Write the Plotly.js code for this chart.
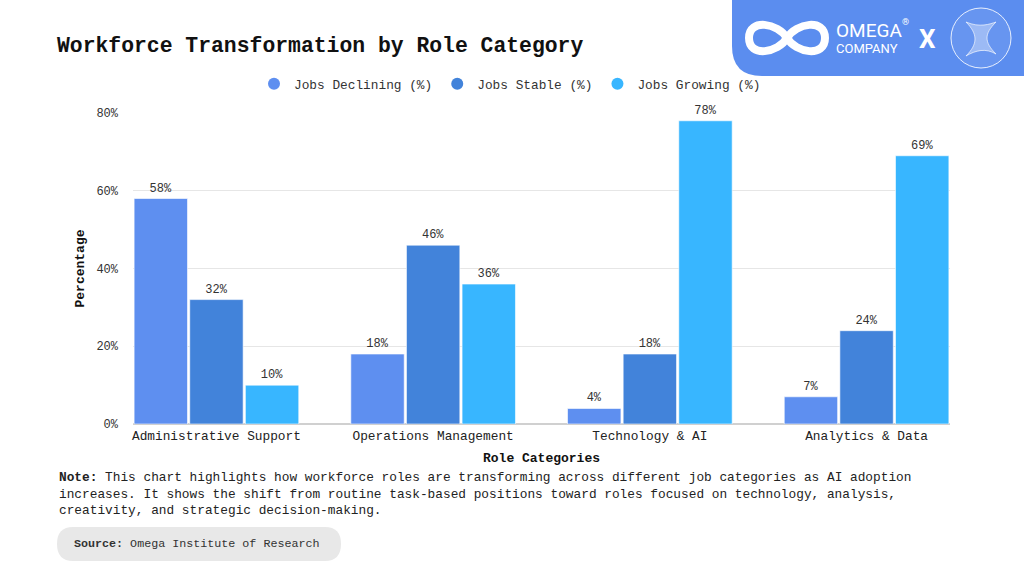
<!DOCTYPE html>
<html>
<head>
<meta charset="utf-8">
<script src="https://cdn.plot.ly/plotly-3.0.1.min.js"></script>
<style>html,body{margin:0;padding:0;background:#fff;}#chart{width:1024px;height:576px;}</style>
</head>
<body>
<div id="chart"></div>
<script>
const categories = ["Administrative Support", "Operations Management", "Technology & AI", "Analytics & Data"];
const seriesNames = ["Jobs Declining (%)", "Jobs Stable (%)", "Jobs Growing (%)"];
const jobsDeclining = [58, 18, 4, 7];
const jobsStable = [32, 46, 18, 24];
const jobsGrowing = [10, 36, 78, 69];
const yTickValues = [0, 20, 40, 60, 80];
const yTickLabels = ["0%", "20%", "40%", "60%", "80%"];

const colors = ["#5E8FF0", "#4283DA", "#38B6FF"];
const FONT = "Liberation Mono, DejaVu Sans Mono, monospace";

// plot area in pixels
const L = 133, R = 950, T = 113, B = 424;
const px = x => (x - L) / (R - L);
const py = y => (B - y) / (B - T);
function path(cmds) {
  return cmds.map(c => {
    const pts = [];
    for (let i = 1; i < c.length; i += 2) pts.push(px(c[i]).toFixed(5) + "," + py(c[i + 1]).toFixed(5));
    return c[0] + " " + pts.join(" ");
  }).join(" ");
}

const seriesValues = [jobsDeclining, jobsStable, jobsGrowing];
const traces = [];
seriesValues.forEach((vals, i) => {
  traces.push({
    type: "bar", x: categories, y: vals, name: seriesNames[i], showlegend: false,
    marker: {color: colors[i], line: {color: "rgba(255,255,255,0.6)", width: 1}},
    texttemplate: "%{y}%", textposition: "outside", cliponaxis: false,
    textfont: {family: FONT, size: 12, color: "#333"}, hoverinfo: "skip"
  });
});
seriesValues.forEach((vals, i) => {
  traces.push({
    type: "scatter", mode: "markers", x: [null], y: [null], name: seriesNames[i],
    marker: {color: colors[i], size: 12, symbol: "circle"}, showlegend: true
  });
});

const shapes = [
  // logo box
  {type: "path", xref: "paper", yref: "paper", layer: "above",
   path: path([["M", 732, -2], ["L", 1026, -2], ["L", 1026, 76], ["L", 762, 76], ["Q", 732, 76, 732, 46], ["Z"]]),
   fillcolor: "#5B8DEF", line: {width: 0}},
  // infinity icon
  {type: "path", xref: "paper", yref: "paper", layer: "above",
   path: path([["M", 787, 38], ["C", 778, 23, 749, 18, 749, 38], ["C", 749, 58, 778, 53, 787, 38],
               ["C", 796, 23, 825, 18, 825, 38], ["C", 825, 58, 796, 53, 787, 38]]),
   fillcolor: "rgba(0,0,0,0)", line: {color: "#ffffff", width: 8}},
  // circle emblem
  {type: "circle", xref: "paper", yref: "paper", layer: "above",
   x0: px(951), x1: px(1011), y0: py(68), y1: py(8),
   fillcolor: "rgba(255,255,255,0.08)", line: {color: "rgba(255,255,255,0.85)", width: 1}},
  {type: "path", xref: "paper", yref: "paper", layer: "above",
   path: path([["M", 966, 22], ["C", 980, 28, 990, 24, 996, 22], ["C", 984, 34, 984, 42, 996, 54], ["C", 986, 48, 976, 50, 966, 56], ["C", 978, 44, 978, 34, 966, 22]]),
   fillcolor: "rgba(255,255,255,0.35)", line: {color: "rgba(255,255,255,0.8)", width: 0.8}},
  // source pill
  {type: "path", xref: "paper", yref: "paper",
   path: path([["M", 73, 527], ["L", 325, 527], ["Q", 341, 527, 341, 544], ["Q", 341, 561, 325, 561],
               ["L", 73, 561], ["Q", 57, 561, 57, 544], ["Q", 57, 527, 73, 527], ["Z"]]),
   fillcolor: "#E8E8E8", line: {width: 0}}
];

const annotations = [
  {xref: "paper", yref: "paper", x: px(57), y: py(468), xanchor: "left", yanchor: "top", align: "left", showarrow: false,
   text: "<b>Note:</b> This chart highlights how workforce roles are transforming across different job categories as AI adoption<br>increases. It shows the shift from routine task-based positions toward roles focused on technology, analysis,<br>creativity, and strategic decision-making.",
   font: {family: FONT, size: 12.8, color: "#222"}},
  {xref: "paper", yref: "paper", x: px(72), y: py(544), xanchor: "left", yanchor: "middle", showarrow: false,
   text: "<b>Source:</b> Omega Institute of Research", font: {family: FONT, size: 11.7, color: "#333"}},
  {xref: "paper", yref: "paper", x: px(834), y: py(31), xanchor: "left", yanchor: "middle", showarrow: false,
   text: "OMEGA", font: {family: "Roboto, Liberation Sans, sans-serif", size: 19, color: "#fff"}},
  {xref: "paper", yref: "paper", x: px(834), y: py(48), xanchor: "left", yanchor: "middle", showarrow: false,
   text: "COMPANY", font: {family: "Roboto, Liberation Sans, sans-serif", size: 13, color: "#fff"}},
  {xref: "paper", yref: "paper", x: px(900), y: py(22), xanchor: "left", yanchor: "middle", showarrow: false,
   text: "®", font: {family: "Roboto, Liberation Sans, sans-serif", size: 9, color: "#fff"}},
  {xref: "paper", yref: "paper", x: px(927), y: py(39), xanchor: "center", yanchor: "middle", showarrow: false,
   text: "<b>X</b>", font: {family: "Roboto, Liberation Sans, sans-serif", size: 26, color: "#fff"}}
];

const layout = {
  width: 1024, height: 576,
  margin: {l: L, r: 1024 - R, t: T, b: 576 - B, pad: 0},
  paper_bgcolor: "#fff", plot_bgcolor: "#fff",
  font: {family: FONT, size: 12, color: "#333"},
  title: {text: "<b>Workforce Transformation by Role Category</b>", x: 57 / 1024, xanchor: "left", xref: "container",
          y: 1 - 45 / 576, yanchor: "middle", yref: "container", font: {family: FONT, size: 21.4, color: "#111"}},
  barmode: "group", bargap: 0.23, bargroupgap: 0.04,
  xaxis: {type: "category", range: [-0.385, 3.385], showgrid: false, zeroline: false, showline: false,
          ticks: "", ticklabelstandoff: 2, tickfont: {family: FONT, size: 12.8, color: "#222"},
          title: {text: "<b>Role Categories</b>", standoff: 10, font: {family: FONT, size: 13, color: "#111"}}},
  yaxis: {range: [0, 80], tickvals: yTickValues, ticktext: yTickLabels, showgrid: true, gridcolor: "#E6E6E6", gridwidth: 1,
          zeroline: true, zerolinecolor: "#D0D0D0", zerolinewidth: 1.5, showline: false, ticks: "",
          ticklabelstandoff: 14, tickfont: {family: FONT, size: 12, color: "#333"},
          title: {text: "<b>Percentage</b>", standoff: 8, font: {family: FONT, size: 13, color: "#111"}}},
  legend: {orientation: "h", xref: "paper", yref: "paper", x: px(510), xanchor: "center", y: py(84), yanchor: "middle",
           font: {family: FONT, size: 12.8, color: "#333"}, itemsizing: "constant", bgcolor: "rgba(0,0,0,0)"},
  shapes: shapes, annotations: annotations
};

Plotly.newPlot("chart", traces, layout, {displayModeBar: false, staticPlot: true});
</script>
</body>
</html>
